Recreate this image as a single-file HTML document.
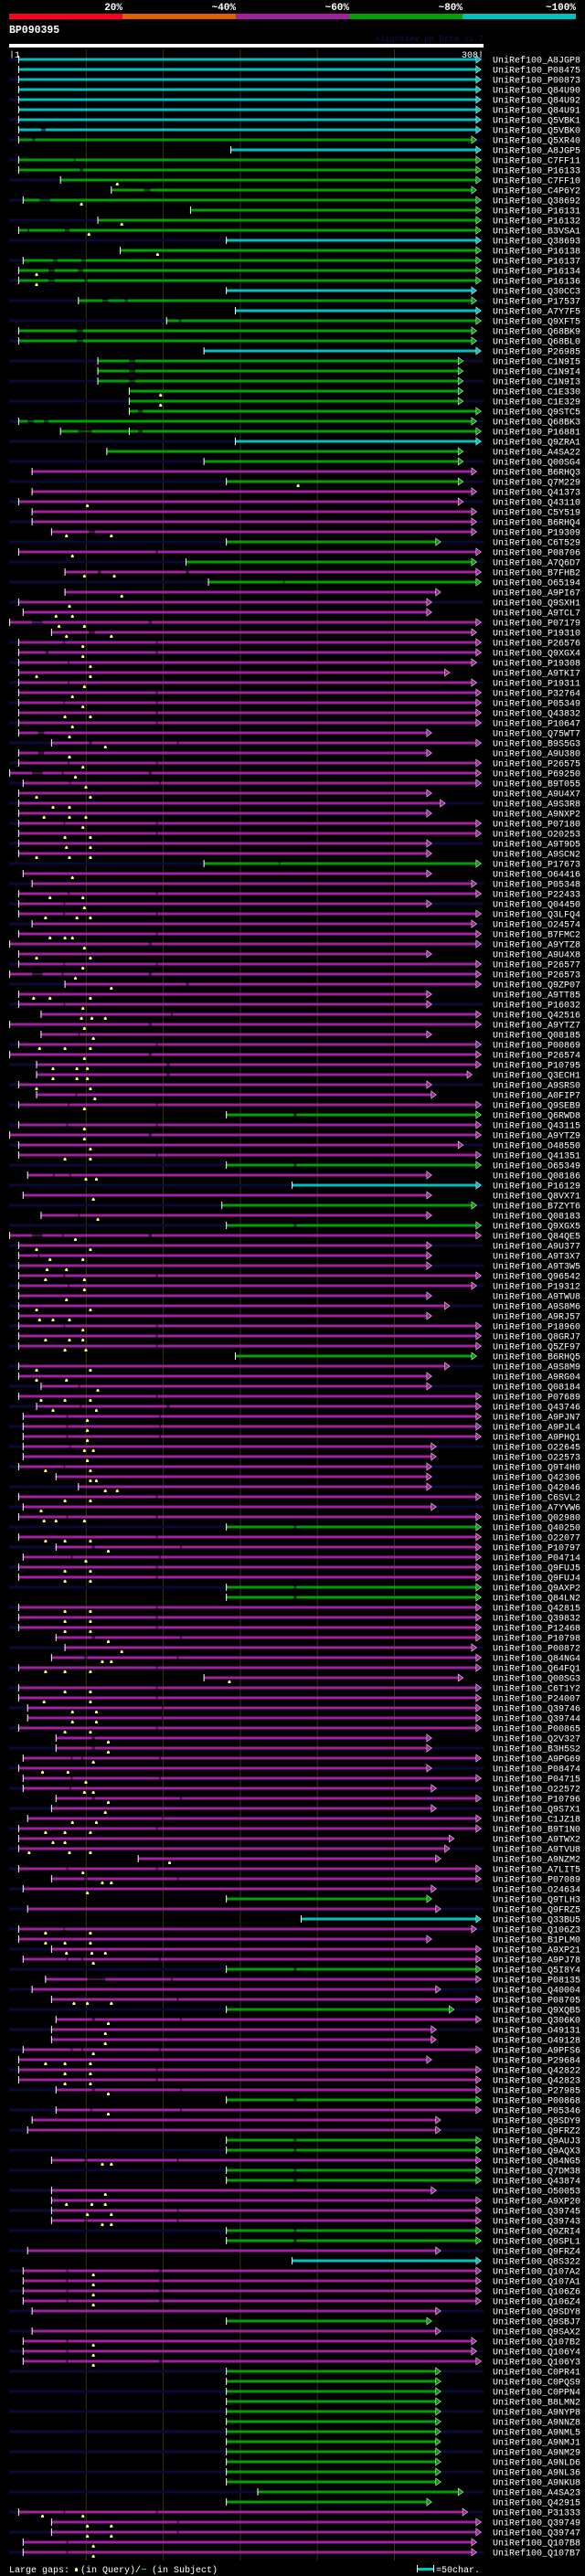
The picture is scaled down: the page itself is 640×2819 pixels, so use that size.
<!DOCTYPE html>
<html><head><meta charset="utf-8">
<style>
html,body{margin:0;padding:0;background:#000;}
svg{display:block;}
text{font-family:"Liberation Mono",monospace;}
</style></head>
<body>
<svg id="chart" width="640" height="2819" viewBox="0 0 640 2819" xmlns="http://www.w3.org/2000/svg">
<rect x="0" y="0" width="640" height="2819" fill="#000"/>
<g>
<rect x="10" y="15" width="124" height="6" fill="#ff0020"/>
<rect x="134" y="15" width="124" height="6" fill="#e06000"/>
<rect x="258" y="15" width="124" height="6" fill="#a020a0"/>
<rect x="382" y="15" width="124" height="6" fill="#00a000"/>
<rect x="506" y="15" width="124" height="6" fill="#00c0c0"/>
<g fill="#fff" font-weight="bold" font-size="11" text-anchor="end">
<text x="134" y="11">20%</text>
<text x="258" y="11">~40%</text>
<text x="382" y="11">~60%</text>
<text x="506" y="11">~80%</text>
<text x="630" y="11">~100%</text>
</g></g>
<text x="10" y="36" fill="#fff" font-weight="bold" font-size="11.5">BP090395</text>
<text x="529" y="45" fill="#101050" font-size="9" text-anchor="end">AlignView.pm Beta v1.7</text>
<rect x="10" y="48" width="519" height="4" fill="#fff"/>
<text x="10" y="63" fill="#fff" font-size="10">|1</text>
<text x="529" y="63" fill="#fff" font-size="10" text-anchor="end">308|</text>
<g id="grid"></g>
<g id="rows"></g>
<g>
<text x="10" y="2815" fill="#fff" font-size="10">Large gaps: </text>
<path d="M82 2814 h3 v-3 l-1.5 -1.5 l-1.5 1.5z" fill="#ffff66"/>
<text x="88" y="2815" fill="#fff" font-size="10">(in Query)/</text>
<rect x="155" y="2811" width="5" height="1" fill="#00c0c0"/>
<text x="166" y="2815" fill="#fff" font-size="10">(in Subject)</text>
<rect x="456" y="2807" width="1" height="8" fill="#fff"/>
<rect x="457" y="2810" width="17" height="3" fill="#00c0c0"/>
<rect x="474" y="2807" width="1" height="8" fill="#fff"/>
<text x="477" y="2815" fill="#fff" font-size="10">=50char.</text>
</g>
</svg>
<script>
const names = ["A8JGP8","P08475","P00873","Q84U90","Q84U92","Q84U91","Q5VBK1","Q5VBK0","Q5XR40","A8JGP5",
"C7FF11","P16133","C7FF10","C4P6Y2","Q38692","P16131","P16132","B3VSA1","Q38693","P16138",
"P16137","P16134","P16136","Q30CC3","P17537","A7Y7F5","Q9XFT5","Q68BK9","Q68BL0","P26985",
"C1N9I5","C1N9I4","C1N9I3","C1E330","C1E329","Q9STC5","Q68BK3","P16881","Q9ZRA1","A4SA22",
"Q00SG4","B6RHQ3","Q7M229","Q41373","Q43110","C5Y519","B6RHQ4","P19309","C6T529","P08706",
"A7Q6D7","B7FHB2","O65194","A9PI67","Q9SXH1","A9TCL7","P07179","P19310","P26576","Q9XGX4",
"P19308","A9TKI7","P19311","P32764","P05349","Q43832","P10647","Q75WT7","B9S5G3","A9U380",
"P26575","P69250","B9T055","A9U4X7","A9S3R8","A9NXP2","P07180","O20253","A9T9D5","A9SCN2",
"P17673","O64416","P05348","P22433","Q04450","Q3LFQ4","O24574","B7FMC2","A9YTZ8","A9U4X8",
"P26577","P26573","Q9ZP07","A9TT85","P16032","Q42516","A9YTZ7","Q08185","P00869","P26574",
"P10795","Q3ECH1","A9SRS0","A0FIP7","Q9SEB9","Q6RWD8","Q43115","A9YTZ9","O48550","Q41351",
"O65349","Q08186","P16129","Q8VX71","B7ZYT6","Q08183","Q9XGX5","Q84QE5","A9U377","A9T3X7",
"A9T3W5","Q96542","P19312","A9TWU8","A9S8M6","A9RJ57","P18960","Q8GRJ7","Q5ZF97","B6RHQ5",
"A9S8M9","A9RG04","Q08184","P07689","Q43746","A9PJN7","A9PJL4","A9PHQ1","O22645","O22573",
"Q9T4H0","Q42306","Q42046","C6SVL2","A7YVW6","Q02980","Q40250","O22077","P10797","P04714",
"Q9FUJ5","Q9FUJ4","Q9AXP2","Q84LN2","Q42815","Q39832","P12468","P10798","P00872","Q84NG4",
"Q64FQ1","Q00SG3","C6T1Y2","P24007","Q39746","Q39744","P00865","Q2V327","B3H5S2","A9PG69",
"P08474","P04715","O22572","P10796","Q9S7X1","C1JZ18","B9T1N0","A9TWX2","A9TVU8","A9NZM2",
"A7LIT5","P07089","O24634","Q9TLH3","Q9FRZ5","Q33BU5","Q106Z3","B1PLM0","A9XP21","A9PJ78",
"Q5I8Y4","P08135","Q40004","P08705","Q9XQB5","Q306K0","O49131","O49128","A9PFS6","P29684",
"Q42822","Q42823","P27985","P00868","P05346","Q9SDY9","Q9FRZ2","Q9AUJ3","Q9AQX3","Q84NG5",
"Q7DM38","Q43874","O50053","A9XP20","Q39745","Q39743","Q9ZRI4","Q9SPL1","Q9FRZ4","Q8S322",
"Q107A2","Q107A1","Q106Z6","Q106Z4","Q9SDY8","Q9SBJ7","Q9SAX2","Q107B2","Q106Y4","Q106Y3",
"C0PR41","C0PQS9","C0PPN4","B8LMN2","A9NYP8","A9NNZ8","A9NML5","A9NMJ1","A9NM29","A9NLD6",
"A9NL36","A9NKU8","A4SA23","Q42915","P31333","Q39749","Q39747","Q107B8","Q107B7"];
const identityClass = ("ccccccccgc"+"ggggggggcg"+"gggcgcgggc"+"ggggggggcg"+"gmgmmmmmgm"+
"gmgmmmmmmm"+"mmmmmmmmmm"+"mmmmmmmmmm"+"gmmmmmmmmm"+"mmmmmmmmmm"+
"mmmmmgmmmm"+"gmcmgmgmmm"+"mmmmmmmmmg"+"mmmmmmmmmm"+"mmmmmmgmmm"+
"mmggmmmmmm"+"mmmmmmmmmm"+"mmmmmmmmmm"+"mmmgmcmmmm"+"gmmmgmmmmm"+
"mmmgmmmggm"+"ggmmmmggmc"+"mmmmmgmmmm"+"gggggggggg"+"ggggmmmmm").split("");
const starts = [1,1,1,1,1,1,1,1,1,143, 1,1,29,63,4,116,54,1,140,69, 4,1,1,140,41,146,100,1,1,125,
54,54,54,75,75,75,1,29,146,60, 125,10,140,10,1,10,10,23,140,1, 113,32,128,32,1,4,-5,23,1,1,
1,1,1,1,1,1,1,1,23,1, 1,-5,4,1,1,1,1,1,1,1, 125,4,10,1,1,1,10,1,-5,1,
1,-5,32,1,1,16,-5,16,1,-5, 13,13,1,13,1,140,1,-5,1,1, 140,7,184,4,137,16,140,-5,1,1,
1,1,1,1,1,1,1,1,1,146, 1,1,16,1,13,4,4,4,4,4, 1,26,41,1,4,1,140,1,26,4,
1,1,140,140,1,1,1,26,32,23, 1,125,1,1,7,7,1,26,26,4, 1,4,4,26,23,7,1,1,1,81,
1,23,4,140,7,190,1,1,23,4, 140,19,10,23,140,26,23,23,4,1, 1,1,26,140,26,10,7,140,140,23,
140,140,23,23,23,23,140,140,7,184, 4,4,4,4,10,140,10,4,4,4, 140,140,140,140,140,140,140,140,140,140,
140,140,161,140,1,23,23,4,4];
const ends = [308,308,308,308,308,308,308,308,305,308, 308,308,308,305,308,308,308,308,308,308,
308,308,308,305,305,308,308,305,305,308, 296,296,296,296,296,308,305,308,308,296,
296,305,296,305,296,305,305,305,281,308, 305,308,308,281,275,275,308,305,308,308,
305,287,305,308,308,308,308,275,308,275, 308,308,308,275,284,275,308,308,275,275,
308,275,305,308,275,308,305,308,308,275, 308,308,308,275,275,308,308,275,308,308,
308,302,275,278,308,308,308,308,296,308, 308,275,308,275,305,275,308,308,275,275,
275,308,305,275,287,275,308,308,308,305, 287,275,275,308,308,308,308,308,278,278,
275,275,275,308,278,308,308,308,308,308, 308,308,308,308,308,308,308,308,305,308,
308,296,308,308,308,308,308,275,275,308, 275,308,278,308,278,308,308,290,287,281,
308,308,278,275,281,308,305,275,308,308, 308,308,281,308,290,308,278,278,308,275,
308,308,308,308,308,281,281,308,308,308, 308,308,278,308,308,308,308,308,281,308,
308,308,308,308,281,275,281,305,305,308, 281,281,281,281,281,281,281,281,281,281,
281,281,296,275,299,308,308,305,305];
const gaps = [[],[],[],[],[],[],[],[16,19],[10,12],[],
[38,39],[42,44],[],[85,89],[15,22],[],[],[7,8,32,35],[],[],
[24,27,43,46],[21,25,41,44],[21,25,45,47],[],[57,61,72,74],[],[108,110],[40,44],[40,44],[],
[75,79],[75,79],[75,79],[],[],[81,84],[7,11,18,21],[41,50,81,84],[],[],
[],[],[],[],[],[],[],[48,52],[],[93,94],
[],[54,56,113,115],[178,179],[],[],[],[10,17,88,90],[48,52],[31,32,93,94],[19,21,93,94],
[34,35],[],[34,35],[93,94],[31,32,93,94],[93,94],[93,94],[14,18],[48,50,107,108],[14,18],
[34,35,93,94],[10,17,30,31,88,90],[35,36,95,96],[],[],[],[31,32,93,94],[93,94],[],[],
[175,176],[],[],[34,35,93,94],[31,32],[31,32,93,94],[],[93,94],[88,90],[],
[31,32,93,94],[10,17,30,31,88,90],[113,115],[],[31,32],[103,104],[88,90],[41,42],[93,94],[88,90],
[100,102],[100,102],[],[39,40],[34,35,93,94],[185,187],[33,34,93,94],[88,90],[],[93,94],
[185,187],[24,25,35,36],[],[],[],[41,42],[185,187],[10,17,30,31,88,90],[],[14,15],
[],[31,32,93,94],[34,35],[],[],[],[31,32,93,94],[93,94],[93,94],[],
[],[],[41,42],[93,94],[42,43,100,102],[33,34,95,96],[33,34,95,96],[33,34,95,96],[35,36],[],
[31,32],[],[],[93,94],[],[33,34,93,94],[185,187],[93,94],[50,52,109,110],[36,37,95,96],
[93,94],[93,94],[185,187],[185,187],[93,94],[93,94],[93,94],[50,52,109,110],[],[45,47,107,108],
[93,94],[],[93,94],[93,94],[97,98],[97,98],[93,94],[50,52],[50,52],[36,37,43,44,95,96],
[],[36,37,95,96],[35,36],[50,52,109,110],[],[97,98],[93,94],[],[],[],
[33,34,93,94],[45,47,107,108],[],[],[],[],[31,32],[],[],[33,34,43,44,95,96],
[185,187],[47,59,103,104],[],[107,108],[],[50,52,109,110],[],[],[36,37,43,44,95,96],[],
[93,94],[93,94],[50,52,109,110],[185,187],[49,50,109,110],[],[],[185,187],[185,187],[45,47,107,108],
[185,187],[185,187],[],[],[107,108],[45,47,107,108],[185,187],[185,187],[],[],
[33,34,95,97],[33,34,95,97],[33,34,95,97],[33,34,95,97],[],[],[],[33,34],[33,34],[33,34,95,97],
[],[],[],[],[],[],[],[],[],[],
[],[],[],[],[31,32,93,94],[107,108],[107,108],[33,34],[33,34]];
const marks = [[],[],[],[],[],[],[],[],[],[],
[],[],[67],[],[43],[],[70],[48],[],[94],
[],[13],[13],[],[],[],[],[],[],[],
[],[],[],[96],[96],[],[],[],[],[],
[],[],[188],[],[47],[],[],[33,63],[],[37],
[],[45,65],[],[70],[35],[26,37],[28,45],[33,63],[44],[44],
[49],[13,49],[45],[37],[44],[32,49],[37],[35],[59],[35],
[44],[39],[46],[13,49],[24,35],[18,35,46],[44],[32,49],[33,49],[13,35,49],
[],[37],[],[22,44],[45],[19,40,49],[],[22,32,37],[45],[13,49],
[44],[39],[63],[11,22,49],[44],[43,50,59],[45],[51],[15,32,49],[45],
[24,40,47],[24,40,47],[13,49],[52],[45],[],[45],[45],[49],[32,49],
[],[46,53],[],[51],[],[54],[],[39],[13,49],[22,44],
[20,33],[19,45],[45],[33],[13,49],[15,24,35],[44],[19,35,44],[32,46],[],
[13,49],[13,33],[54],[16,32,49],[24,53],[47],[47],[47],[45,51],[47],
[19,49],[49,53],[59,67],[32,49],[16],[18,26,45],[],[19,32,49],[61],[46],
[32,49],[32,49],[],[],[32,49],[32,49],[32,49],[61],[70],[57,63],
[19,32,49],[142],[32,49],[18,49],[37,53],[37,53],[32,49],[61],[61],[51],
[17,34],[46],[45,51],[61],[59],[37,53],[19,32,49],[24,32],[8,35,49],[102],
[44],[57,63],[47],[],[],[],[19,49],[19,32,49],[33,50,59],[51],
[],[],[],[38,47,63],[],[61],[59],[59],[51],[19,32,49],
[32,49],[32,49],[61],[],[61],[],[],[],[],[57,63],
[],[],[59],[33,50,59],[47,63],[57,63],[],[],[],[],
[51],[51],[51],[51],[],[],[],[51],[51],[51],
[],[],[],[],[],[],[],[],[],[],
[],[],[],[],[17,44],[47,63],[47,63],[51],[51]];
const extraTickRow = [38];
const extraTickPos = [75];
const gridTicks = [1,2,3,4,5];

const NS = "http://www.w3.org/2000/svg";
const COLORS = {c:"#00c0c0", g:"#00a000", m:"#a020a0"};
const xOf = q => 20.4 + (q - 1) * 1.635;
const yOf = i => 65 + i * 11;
function mk(tag, attrs, parent){
  const e = document.createElementNS(NS, tag);
  for (const k in attrs) e.setAttribute(k, attrs[k]);
  parent.appendChild(e);
  return e;
}
const grid = document.getElementById("grid");
gridTicks.forEach(k => {
  const l = mk("rect", {x: 10 + k*84.3 - 0.5, y: 54, width: 1, height: 2748, fill: "#343410"}, grid);
  
  
});
const rowsG = document.getElementById("rows");
names.forEach((nm, i) => {
  const y = yOf(i);
  const col = COLORS[identityClass[i]];
  const g = mk("g", {}, rowsG);
  
  
  if (i % 2 === 0) {
    const s = mk("rect", {x: 10, y: y - 1.5, width: 519, height: 3, fill: "#0a0a36"}, g);
    
    
  }
  const xs = xOf(starts[i]), xe = xOf(ends[i]);
  // segments split by gaps
  const gp = gaps[i];
  let cur = xs;
  const segs = [];
  for (let k = 0; k < gp.length; k += 2) {
    segs.push([cur, xOf(gp[k])]);
    const gl = mk("rect", {x: xOf(gp[k]), y: y - 0.5, width: xOf(gp[k+1]) - xOf(gp[k]), height: 1, fill: col}, g);
    
    
    cur = xOf(gp[k+1]);
  }
  segs.push([cur, xe - 1]);
  segs.forEach(sg => {
    const b = mk("rect", {x: sg[0], y: y - 1.5, width: Math.max(0, sg[1] - sg[0]), height: 3, fill: col}, g);
    
    
  });
  const t = mk("rect", {x: xs - 0.5, y: y - 4, width: 1, height: 8, fill: "#fff"}, g);
  
  
  extraTickRow.forEach((r, j) => {
    if (r === i + 1) {
      const et = mk("rect", {x: xOf(extraTickPos[j]) - 0.5, y: y - 4, width: 1, height: 8, fill: "#fff"}, g);
      
      
    }
  });
  const a = mk("path", {d: `M${xe-1.5} ${y-4} L${xe+4} ${y} L${xe-1.5} ${y+4} Z`, fill: col, stroke: "#e0e0e0", "stroke-width": 0.6}, g);
  
  
  marks[i].forEach(q => {
    const mx = xOf(q);
    const m = mk("path", {d: `M${mx-1.5} ${y+6} h3 v-2 l-1.5 -1.5 l-1.5 1.5z`, fill: "#ffff66"}, g);
    
    
  });
  const tx = mk("text", {x: 539, y: y + 3.5, fill: "#fff", "font-size": 10}, g);
  tx.textContent = "UniRef100_" + nm;
  
  
});
</script>
</body></html>
